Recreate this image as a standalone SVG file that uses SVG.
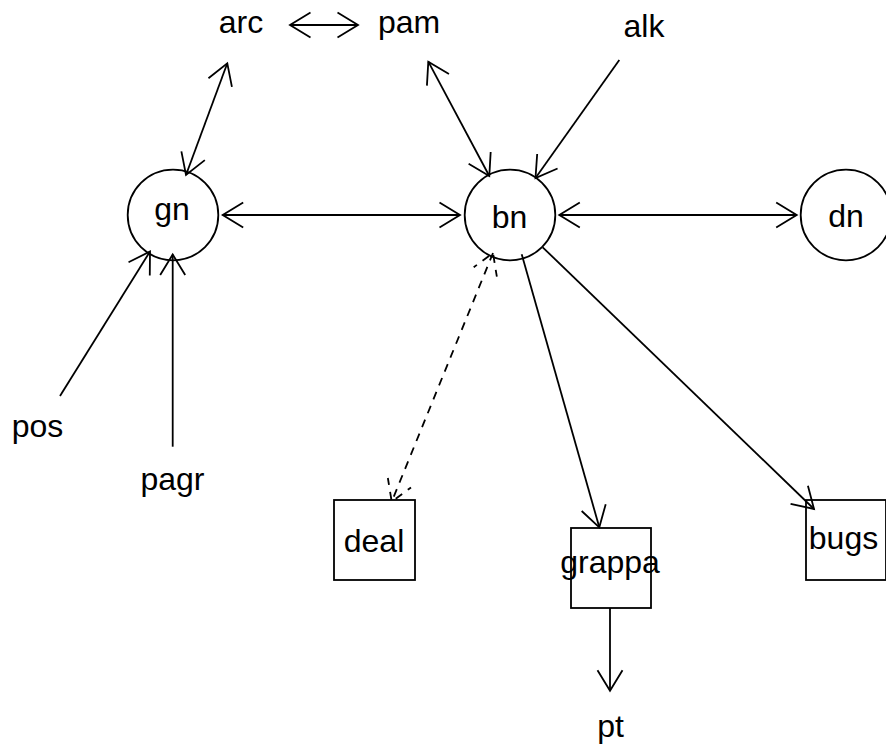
<svg xmlns="http://www.w3.org/2000/svg" width="886" height="746" viewBox="0 0 886 746">
<style>
.node circle, .node rect { fill: none; stroke: #000; stroke-width: 1.8; }
text { font-family: "Liberation Sans", Arial, sans-serif; font-size: 32px; fill: #000; text-anchor: middle; }
.edge { fill: none; stroke: #000; stroke-width: 1.8; }
.solid { marker-end: url(#ah); }
.both { marker-start: url(#ah); marker-end: url(#ah); }
.dash { stroke-dasharray: 8 7; marker-start: url(#ahd); marker-end: url(#ahd); }
</style>
<defs>
<marker id="ah" markerUnits="userSpaceOnUse" viewBox="-24 -16 26 32" refX="0" refY="0" markerWidth="26" markerHeight="32" orient="auto-start-reverse" overflow="visible">
<path d="M-20.5,-12.5 L0,0 L-20.5,12.5" fill="none" stroke="#000" stroke-width="1.8" stroke-linejoin="miter"/>
</marker>
<marker id="ahd" markerUnits="userSpaceOnUse" viewBox="-24 -16 26 32" refX="0" refY="0" markerWidth="26" markerHeight="32" orient="auto-start-reverse" overflow="visible">
<path d="M-20.5,-12.5 L0,0 L-20.5,12.5" fill="none" stroke="#000" stroke-width="1.8" stroke-dasharray="8 7" stroke-dashoffset="4"/>
</marker>
</defs>
<rect x="0" y="0" width="886" height="746" fill="#fff"/>
<g id="edges">
<path class="edge both" d="M290,25 L358,25"/>
<path class="edge both" d="M227.3,63.3 L186,175"/>
<path class="edge both" d="M222.7,215 L460,215"/>
<path class="edge both" d="M559.3,215 L796.7,215"/>
<path class="edge both" d="M428.3,61.7 L489.3,176"/>
<path class="edge solid" d="M619.3,60 L535.5,178"/>
<path class="edge solid" d="M60,396 L150,251.5"/>
<path class="edge solid" d="M172.7,446.7 L172.7,254.5"/>
<path class="edge solid" d="M521.7,254.3 L599.3,527.3"/>
<path class="edge solid" d="M542.7,247.3 L814,509"/>
<path class="edge dash" d="M493,253 L391.7,501.7"/>
<path class="edge solid" d="M610,608 L610,690.7"/>
</g>
<g id="arc" class="node"><text x="241" y="33">arc</text></g>
<g id="pam" class="node"><text x="409" y="33">pam</text></g>
<g id="alk" class="node"><text x="644" y="37">alk</text></g>
<g id="gn" class="node"><circle cx="173" cy="215" r="45.3"/><text x="172" y="220">gn</text></g>
<g id="bn" class="node"><circle cx="510" cy="215" r="45.3"/><text x="509.5" y="228">bn</text></g>
<g id="dn" class="node"><circle cx="846" cy="215" r="45.3"/><text x="846" y="227">dn</text></g>
<g id="pos" class="node"><text x="37.5" y="437">pos</text></g>
<g id="pagr" class="node"><text x="172.5" y="490">pagr</text></g>
<g id="deal" class="node"><rect x="334" y="500" width="81" height="80"/><text x="374" y="552">deal</text></g>
<g id="grappa" class="node"><rect x="571" y="528" width="80" height="80"/><text x="610" y="573">grappa</text></g>
<g id="bugs" class="node"><rect x="806" y="500" width="80" height="80"/><text x="843.5" y="549">bugs</text></g>
<g id="pt" class="node"><text x="610.5" y="737">pt</text></g>
</svg>
